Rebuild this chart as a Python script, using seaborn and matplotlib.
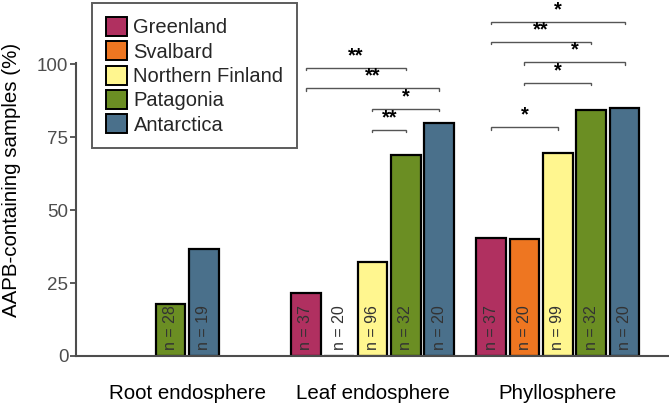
import numpy as np
import pandas as pd
import matplotlib
matplotlib.use("Agg")
import matplotlib.pyplot as plt
import seaborn as sns
from matplotlib.patches import Patch

# ---- data ----
compartments = ["Root endosphere", "Leaf endosphere", "Phyllosphere"]
regions = ["Greenland", "Svalbard", "Northern Finland", "Patagonia", "Antarctica"]
colors = ["#B03060", "#EE7621", "#FFF68F", "#6B8E23", "#4A708B"]

bar_compartment = ["Root endosphere", "Root endosphere",
                   "Leaf endosphere", "Leaf endosphere", "Leaf endosphere",
                   "Leaf endosphere", "Leaf endosphere",
                   "Phyllosphere", "Phyllosphere", "Phyllosphere",
                   "Phyllosphere", "Phyllosphere"]
bar_region = ["Patagonia", "Antarctica",
              "Greenland", "Svalbard", "Northern Finland", "Patagonia", "Antarctica",
              "Greenland", "Svalbard", "Northern Finland", "Patagonia", "Antarctica"]
bar_percent = [17.9, 36.8,
               21.6, 0.0, 32.3, 68.8, 80.0,
               40.5, 40.0, 69.7, 84.4, 85.0]
bar_n = [28, 19,
         37, 20, 96, 32, 20,
         37, 20, 99, 32, 20]

# significance comparisons: (compartment, region A, region B, height, label)
sig_comp = ["Leaf endosphere"] * 4 + ["Phyllosphere"] * 5
sig_a = ["Greenland", "Greenland", "Northern Finland", "Northern Finland",
         "Greenland", "Greenland", "Svalbard", "Svalbard", "Greenland"]
sig_b = ["Patagonia", "Antarctica", "Antarctica", "Patagonia",
         "Antarctica", "Patagonia", "Antarctica", "Patagonia", "Northern Finland"]
sig_y = [98.7, 91.7, 84.6, 77.5,
         114.6, 107.6, 100.6, 93.6, 78.4]
sig_label = ["**", "**", "*", "**",
             "*", "**", "*", "*", "*"]

# ---- layout of dodged bars (centered on present bars) ----
slot = 0.18
df = pd.DataFrame({"compartment": bar_compartment, "region": bar_region,
                   "percent": bar_percent, "n": bar_n})
pos = []
for c_i, comp in enumerate(compartments):
    sub = df[df.compartment == comp]
    k = len(sub)
    for j in range(k):
        pos.append(c_i + (j - (k - 1) / 2) * slot)
df["xpos"] = pos
pos_lookup = {(r.compartment, r.region): r.xpos for r in df.itertuples()}

sns.set_theme(style="white")
plt.rcParams["font.family"] = ["Liberation Sans", "DejaVu Sans"]

fig = plt.figure(figsize=(6.69, 4.09), dpi=100)
ax = fig.add_axes([0.1136, 0.1296, 0.8864, 0.7164])

palette = dict(zip(regions, colors))
sns.barplot(data=df, x="xpos", y="percent", hue="region", hue_order=regions,
            palette=palette, native_scale=True, dodge=False, width=0.16 / slot,
            edgecolor="black", linewidth=1.6, saturation=1, legend=False, ax=ax,
            errorbar=None)

# n labels
for r in df.itertuples():
    ax.text(r.xpos, 2.0, f"n = {r.n}", rotation=90, ha="center", va="bottom",
            fontsize=11.5, color="#333333")

# significance brackets
for comp, a, b, y, lab in zip(sig_comp, sig_a, sig_b, sig_y, sig_label):
    xa = pos_lookup[(comp, a)]
    xb = pos_lookup[(comp, b)]
    ax.plot([xa, xa, xb, xb], [y - 0.8, y, y, y - 0.8], color="#555555", lw=1.0,
            clip_on=False, solid_joinstyle="miter")
    ax.text((xa + xb) / 2, y + 0.9, lab, ha="center", va="bottom", fontsize=14.5,
            fontweight="bold", color="black", clip_on=False)

ax.set_xlim(-0.6, 2.6)
ax.set_ylim(0, 100.4)
ax.set_xticks(range(len(compartments)))
ax.set_xticklabels(compartments, fontsize=14.8, color="black")
ax.set_yticks([0, 25, 50, 75, 100])
ax.set_yticklabels(["0", "25", "50", "75", "100"], fontsize=13.5, color="#4D4D4D")
ax.tick_params(axis="x", length=0, pad=20)
ax.tick_params(axis="y", length=4, width=1.3, color="#4D4D4D", pad=1.5, left=True)
ax.set_xlabel("")
ax.set_ylabel("AAPB-containing samples (%)", fontsize=14.8, color="black")
ax.yaxis.set_label_coords(-0.093, 0.60)
for s in ["top", "right"]:
    ax.spines[s].set_visible(False)
for s in ["left", "bottom"]:
    ax.spines[s].set_color("#4D4D4D")
    ax.spines[s].set_linewidth(1.5)

handles = [Patch(facecolor=c, edgecolor="black", linewidth=1.4, label=r)
           for r, c in zip(regions, colors)]
leg = fig.legend(handles=handles, loc="upper left", bbox_to_anchor=(92 / 669, 1 - 3 / 409),
                 frameon=True, fancybox=False, fontsize=14.5, handlelength=1.08,
                 handleheight=1.08, handletextpad=0.3, labelspacing=0.2,
                 borderpad=0.68, borderaxespad=0)
leg.get_frame().set_edgecolor("#333333")
leg.get_frame().set_linewidth(1.4)

fig.savefig("out.png", dpi=100)
